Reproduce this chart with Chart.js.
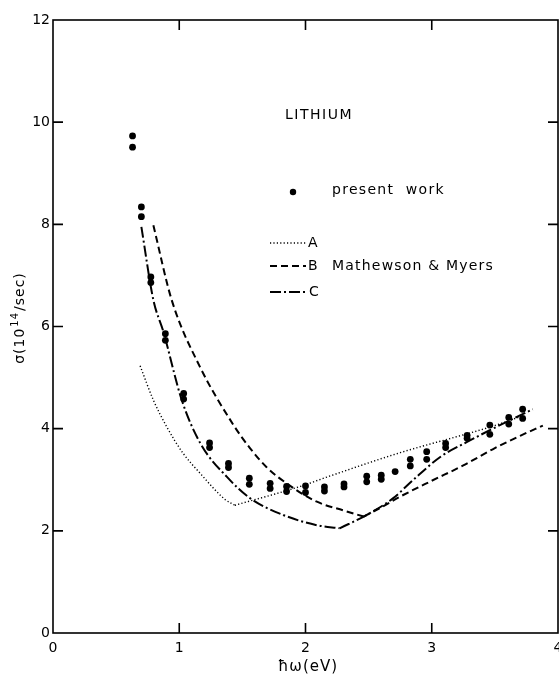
<!DOCTYPE html>
<html>
<head>
<meta charset="utf-8">
<script src="https://cdn.jsdelivr.net/npm/chart.js@4.4.1/dist/chart.umd.min.js"></script>
<style>
  html, body { margin: 0; padding: 0; background: #fff; overflow: hidden; }
  canvas { display: block; }
</style>
</head>
<body>
<canvas id="chart" width="559" height="679"></canvas>
<script>
// Photon energy ħω (eV) and relaxation rate σ (10^14/sec) for lithium.
const presentX = [0.63, 0.63, 0.70, 0.70, 0.775, 0.775, 0.89, 0.89, 1.035, 1.035,
                  1.24, 1.24, 1.39, 1.39, 1.555, 1.555, 1.72, 1.72, 1.85, 1.85,
                  2.0, 2.0, 2.15, 2.15, 2.305, 2.305, 2.485, 2.485, 2.60, 2.60,
                  2.71, 2.83, 2.83, 2.96, 2.96, 3.11, 3.11, 3.28, 3.28, 3.46, 3.46,
                  3.61, 3.61, 3.72, 3.72];
const presentY = [9.73, 9.51, 8.34, 8.15, 6.97, 6.86, 5.86, 5.73, 4.69, 4.58,
                  3.72, 3.63, 3.32, 3.24, 3.03, 2.91, 2.93, 2.83, 2.87, 2.77,
                  2.88, 2.75, 2.86, 2.78, 2.92, 2.86, 3.07, 2.96, 3.09, 3.01,
                  3.16, 3.40, 3.27, 3.55, 3.40, 3.71, 3.63, 3.87, 3.81, 4.07, 3.89,
                  4.22, 4.09, 4.38, 4.20];

// Curve A (dotted): falling branch and rising branch meet at the minimum
const aFallX = [0.69, 0.795, 0.90, 1.03, 1.164, 1.36, 1.44];
const aFallY = [5.23, 4.56, 4.04, 3.52, 3.13, 2.62, 2.50];
const aRiseX = [1.44, 1.96, 2.19, 2.75, 3.28, 3.46, 3.72];
const aRiseY = [2.50, 2.87, 3.07, 3.53, 3.90, 4.03, 4.25];

// Curve B (dashed), Mathewson & Myers
const bFallX = [0.795, 0.94, 1.164, 1.43, 1.56, 1.69, 1.85, 2.09, 2.30, 2.46];
const bFallY = [7.98, 6.52, 5.21, 4.07, 3.62, 3.25, 2.93, 2.57, 2.40, 2.28];
const bRiseX = [2.46, 2.60, 2.75, 3.0, 3.25, 3.5, 3.7, 3.88];
const bRiseY = [2.28, 2.46, 2.67, 2.98, 3.28, 3.62, 3.86, 4.06];

// Curve C (dash-dot)
const cFallX = [0.70, 0.795, 0.874, 1.02, 1.17, 1.376, 1.56, 1.824, 2.09, 2.27];
const cFallY = [7.95, 6.52, 5.90, 4.56, 3.70, 3.06, 2.64, 2.31, 2.11, 2.05];
const cRiseX = [2.27, 2.485, 2.695, 2.85, 3.07, 3.28, 3.46, 3.80];
const cRiseY = [2.05, 2.31, 2.64, 2.99, 3.45, 3.74, 3.97, 4.38];

// Axis ticks
const xTicks = [0, 1, 2, 3, 4];
const yTicks = [0, 2, 4, 6, 8, 10, 12];

const INK = '#000';
const FONT = '"DejaVu Sans", "Liberation Sans", sans-serif';
const styleA = { borderWidth: 1.4, borderDash: [1.2, 2.2] };
const styleB = { borderWidth: 2, borderDash: [7, 4] };
const styleC = { borderWidth: 2, borderDash: [11, 3, 2, 3] };

const pts = (xs, ys) => xs.map((x, i) => ({ x: x, y: ys[i] }));
const curve = (xs, ys, style) => Object.assign({
  type: 'line',
  data: pts(xs, ys),
  borderColor: INK,
  pointRadius: 0,
  fill: false,
  cubicInterpolationMode: 'monotone'
}, style);

// Frame with inward ticks, axis titles and the in-plot key
const decorations = {
  id: 'decorations',
  afterDraw(chart) {
    const { ctx, chartArea: a, scales } = chart;
    const sx = scales.x, sy = scales.y;
    ctx.save();
    ctx.strokeStyle = INK;
    ctx.fillStyle = INK;
    ctx.lineWidth = 1.6;
    ctx.setLineDash([]);
    ctx.strokeRect(a.left, a.top, a.right - a.left, a.bottom - a.top);
    const L = 10;
    ctx.beginPath();
    xTicks.slice(1, -1).forEach(v => {
      const px = sx.getPixelForValue(v);
      ctx.moveTo(px, a.bottom); ctx.lineTo(px, a.bottom - L);
      ctx.moveTo(px, a.top); ctx.lineTo(px, a.top + L);
    });
    yTicks.slice(1, -1).forEach(v => {
      const py = sy.getPixelForValue(v);
      ctx.moveTo(a.left, py); ctx.lineTo(a.left + L, py);
      ctx.moveTo(a.right, py); ctx.lineTo(a.right - L, py);
    });
    ctx.stroke();

    // x-axis title
    ctx.font = '15px ' + FONT;
    ctx.letterSpacing = '1px';
    ctx.textAlign = 'center';
    ctx.textBaseline = 'middle';
    ctx.fillText('ħω(eV)', 308, 667);

    // y-axis title with superscript exponent
    ctx.save();
    ctx.translate(20, 318);
    ctx.rotate(-Math.PI / 2);
    ctx.textAlign = 'left';
    ctx.textBaseline = 'middle';
    ctx.letterSpacing = '1px';
    const partA = 'σ(10', sup = '14', partB = '/sec)';
    ctx.font = '14px ' + FONT;
    const wA = ctx.measureText(partA).width, wB = ctx.measureText(partB).width;
    ctx.font = '10px ' + FONT;
    const wS = ctx.measureText(sup).width;
    let cx = -(wA + wS + wB + 2) / 2;
    ctx.font = '14px ' + FONT;
    ctx.fillText(partA, cx, 0); cx += wA + 1;
    ctx.font = '10px ' + FONT;
    ctx.fillText(sup, cx, -5); cx += wS + 1;
    ctx.font = '14px ' + FONT;
    ctx.fillText(partB, cx, 0);
    ctx.restore();

    // key
    ctx.textAlign = 'left';
    ctx.textBaseline = 'middle';
    ctx.font = '14px ' + FONT;
    ctx.letterSpacing = '1.5px';
    ctx.fillText('LITHIUM', 285, 115);
    ctx.beginPath();
    ctx.arc(293, 192, 3.2, 0, Math.PI * 2);
    ctx.fill();
    ctx.letterSpacing = '1.3px';
    ctx.fillText('present  work', 332, 190);

    const sample = (y, style) => {
      ctx.save();
      ctx.lineWidth = style.borderWidth;
      ctx.setLineDash(style.borderDash);
      ctx.beginPath();
      ctx.moveTo(270, y); ctx.lineTo(306, y);
      ctx.stroke();
      ctx.restore();
    };
    sample(243, styleA);
    sample(266, styleB);
    sample(292, styleC);
    ctx.letterSpacing = '1px';
    ctx.fillText('A', 308, 243);
    ctx.fillText('B', 308, 266);
    ctx.fillText('C', 309, 292);
    ctx.letterSpacing = '1.2px';
    ctx.fillText('Mathewson & Myers', 332, 266);
    ctx.restore();
  }
};

new Chart(document.getElementById('chart'), {
  type: 'line',
  data: {
    datasets: [
      curve(aFallX, aFallY, styleA),
      curve(aRiseX, aRiseY, styleA),
      curve(bFallX, bFallY, styleB),
      curve(bRiseX, bRiseY, styleB),
      curve(cFallX, cFallY, styleC),
      curve(cRiseX, cRiseY, styleC),
      {
        type: 'scatter',
        label: 'present work',
        data: pts(presentX, presentY),
        pointRadius: 3.4,
        pointBackgroundColor: INK,
        pointBorderColor: INK,
        pointBorderWidth: 0,
        showLine: false
      }
    ]
  },
  options: {
    responsive: false,
    animation: false,
    devicePixelRatio: 1,
    layout: { autoPadding: false, padding: { top: 20, right: 1, left: 0, bottom: 0 } },
    plugins: { legend: { display: false }, tooltip: { enabled: false } },
    scales: {
      x: {
        type: 'linear',
        min: 0, max: 4,
        grid: { display: false, drawTicks: false },
        border: { display: false },
        afterBuildTicks: s => { s.ticks = xTicks.map(v => ({ value: v })); },
        afterFit: s => { s.height = 46; s.paddingLeft = 0; s.paddingRight = 0; },
        ticks: {
          color: INK, padding: 7, maxRotation: 0, autoSkip: false,
          font: { family: FONT, size: 14 }
        }
      },
      y: {
        type: 'linear',
        min: 0, max: 12,
        grid: { display: false, drawTicks: false },
        border: { display: false },
        afterBuildTicks: s => { s.ticks = yTicks.map(v => ({ value: v })); },
        afterFit: s => { s.width = 53; s.paddingTop = 0; s.paddingBottom = 0; },
        ticks: {
          color: INK, padding: 3, autoSkip: false,
          font: { family: FONT, size: 14 }
        }
      }
    }
  },
  plugins: [decorations]
});
</script>
</body>
</html>
